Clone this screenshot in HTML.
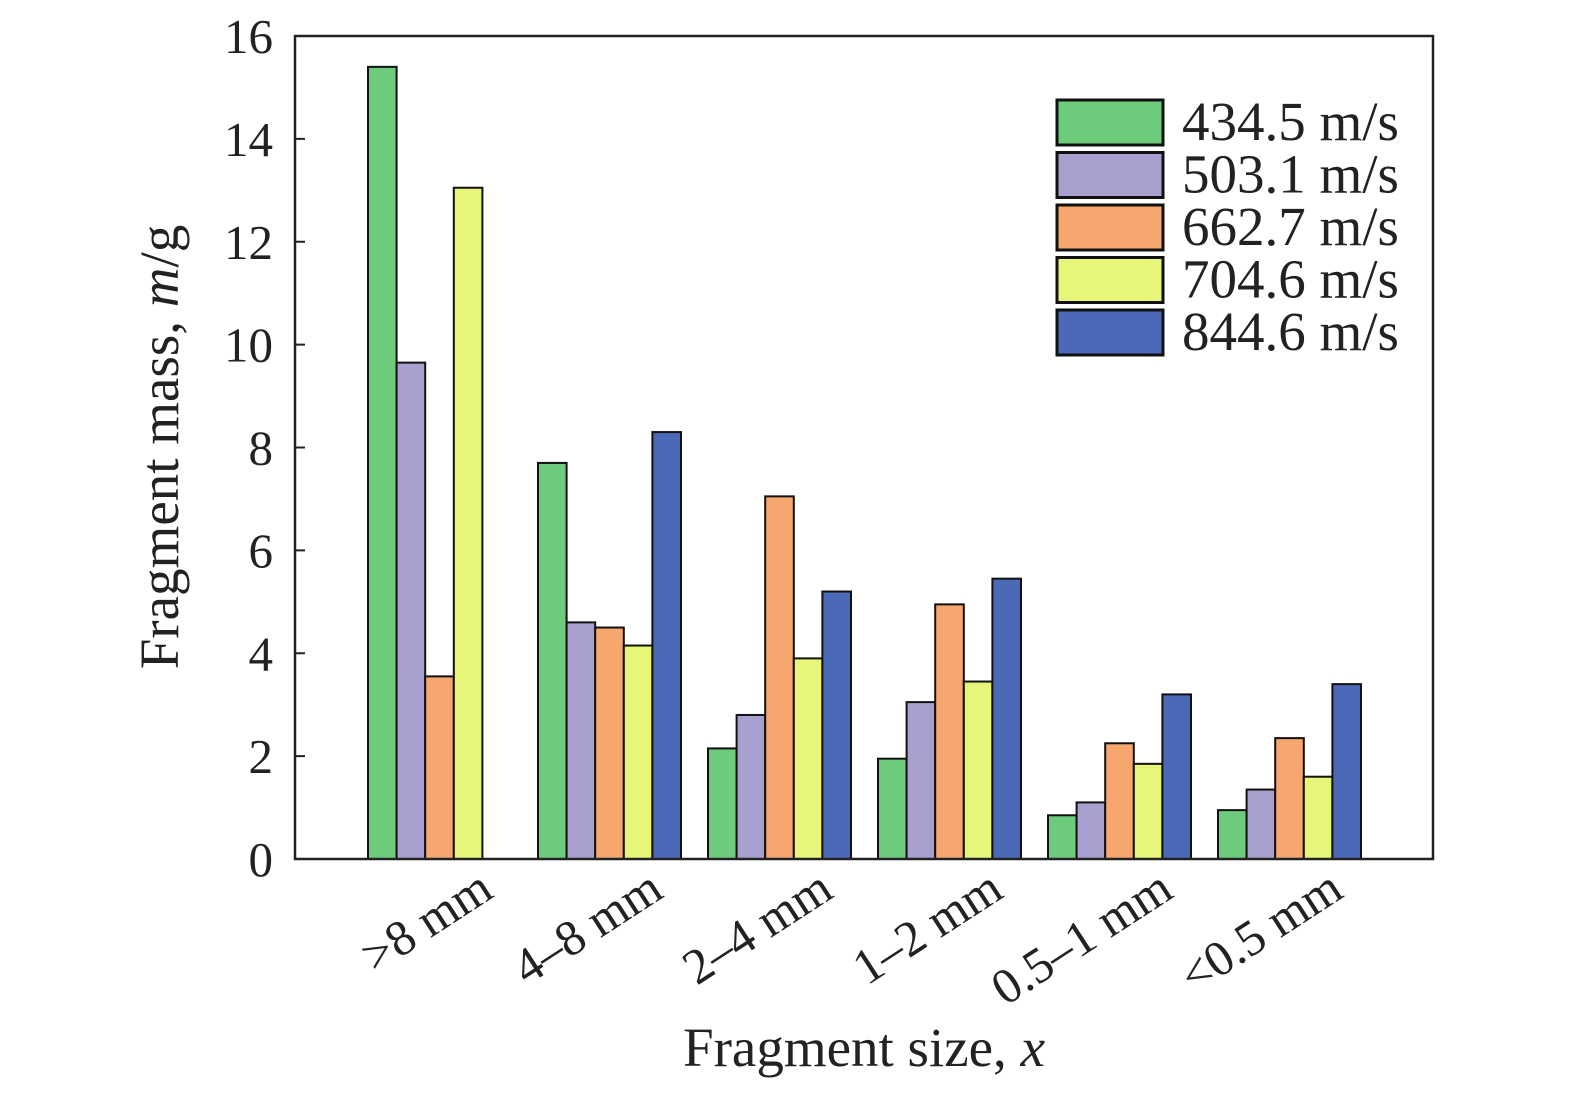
<!DOCTYPE html>
<html><head><meta charset="utf-8"><style>
html,body{margin:0;padding:0;background:#fff;}
svg{display:block;font-family:"Liberation Serif",serif;}
</style></head><body>
<svg id="chart" width="1575" height="1093" viewBox="0 0 1575 1093" xmlns="http://www.w3.org/2000/svg">
<rect x="0" y="0" width="1575" height="1093" fill="#fff"/>
<g id="bars"></g>
<rect x="295" y="36" width="1138" height="823" fill="none" stroke="#222" stroke-width="2.5"/>
<g id="yaxis"></g>
<g id="xaxis"></g>
<text x="178" y="447" font-size="55" text-anchor="middle" transform="rotate(-90 178 447)" fill="#222">Fragment mass, <tspan font-style="italic">m</tspan>/g</text>
<text x="864" y="1066" font-size="55" text-anchor="middle" fill="#222">Fragment size, <tspan font-style="italic">x</tspan></text>
<g id="legend"></g>
</svg>
<script>
const categories = [">8 mm","4\u20138 mm","2\u20134 mm","1\u20132 mm","0.5\u20131 mm","<0.5 mm"];
const seriesNames = ["434.5 m/s","503.1 m/s","662.7 m/s","704.6 m/s","844.6 m/s"];
const s434 = [15.4, 7.7, 2.15, 1.95, 0.85, 0.95];
const s503 = [9.65, 4.6, 2.8, 3.05, 1.1, 1.35];
const s662 = [3.55, 4.5, 7.05, 4.95, 2.25, 2.35];
const s704 = [13.05, 4.15, 3.9, 3.45, 1.85, 1.6];
const s844 = [0, 8.3, 5.2, 5.45, 3.2, 3.4];
const yTicks = [0,2,4,6,8,10,12,14,16];
const colors = ["#6ccc7c","#a79fcd","#f5a76f","#e7f578","#4b69b6"];
const series = [s434,s503,s662,s704,s844];
const NS="http://www.w3.org/2000/svg";
const yScale = v => 859 - v*(823/16);
const groupStart = i => 368 + 170*i;
const barW = 28.6;
function mk(tag, attrs, parent){const e=document.createElementNS(NS,tag);for(const k in attrs)e.setAttribute(k,attrs[k]);parent.appendChild(e);return e;}
const bars=document.getElementById('bars');
series.forEach((s,si)=>{s.forEach((v,ci)=>{
  if(v<=0) return;
  const x=groupStart(ci)+si*barW, y=yScale(v);
  const r=mk('rect',{x:x,y:y,width:barW,height:859-y,fill:colors[si],stroke:"#111","stroke-width":2},bars);
  
  
});});
const ya=document.getElementById('yaxis');
yTicks.forEach(t=>{
  const y=yScale(t);
  const l=mk('line',{x1:295,x2:305,y1:y,y2:y,stroke:"#222","stroke-width":2},ya);
  
  
  const tx=mk('text',{x:273,y:y+17,"font-size":49,"text-anchor":"end",fill:"#222"},ya);
  tx.textContent=t;
  
  
});
const xa=document.getElementById('xaxis');
categories.forEach((c,ci)=>{
  const ax=groupStart(ci)+2.5*barW+56, ay=896;
  const tx=mk('text',{x:ax,y:ay,"font-size":50,"text-anchor":"end",fill:"#222",transform:"rotate(-33 "+ax+" "+ay+")"},xa);
  tx.textContent=c;
  
  
});
const lg=document.getElementById('legend');
seriesNames.forEach((n,i)=>{
  const y=100+i*52.5;
  const r=mk('rect',{x:1057,y:y,width:106,height:45,fill:colors[i],stroke:"#111","stroke-width":3},lg);
  
  
  const t=mk('text',{x:1182,y:y+40,"font-size":55,fill:"#222"},lg);
  t.textContent=n;
  
  
});
</script>
</body></html>
